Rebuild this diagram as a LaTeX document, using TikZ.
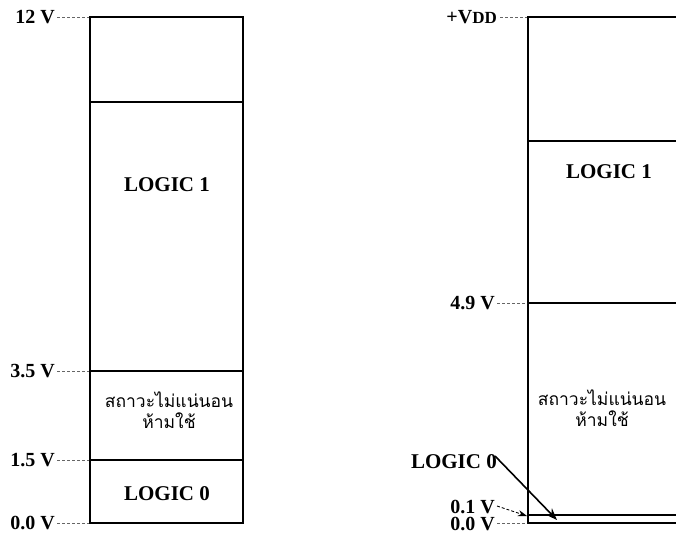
\documentclass[tikz,border=0pt]{standalone}
\usepackage{fontspec}
\setmainfont{Liberation Serif}
\newfontfamily\thaifont[Script=Thai]{Loma}
\usetikzlibrary{arrows.meta}
\begin{document}
\begin{tikzpicture}[x=1pt,y=1pt,
  region/.style={draw=black,line width=1.3pt},
  vlabel/.style={anchor=east,inner sep=0pt,font=\fontsize{20}{20}\selectfont\bfseries},
  logic/.style={inner sep=0pt,font=\fontsize{21}{21}\selectfont\bfseries},
  thai/.style={inner sep=0pt,align=center,font=\fontsize{17.5}{21}\selectfont\thaifont},
  tick/.style={draw=black!60,dashed,dash pattern=on 3pt off 2pt,line width=0.6pt},
  pointer/.style={draw=black,line width=1.6pt,-{Stealth[length=12pt,width=9pt]}},
  dpointer/.style={draw=black,dash pattern=on 3pt off 2pt,line width=0.8pt,-{Stealth[length=9pt,width=6pt]}}]
\useasboundingbox (0,0) rectangle (676,536);
\clip (0,0) rectangle (676,536);
% left box
\draw[region] (90,13) rectangle (243,519);
\draw[region] (90,434) -- (243,434);
\draw[region] (90,165) -- (243,165);
\draw[region] (90,76) -- (243,76);
\node[logic] (l1) at (167,351) {LOGIC 1};
\node[thai] (lund) at (169,126) {สถาวะไม่แน่นอน\\ห้ามใช้};
\node[logic] (l0) at (167,42) {LOGIC 0};
% left labels
\node[vlabel] (a12) at (55,519) {12 V};
\node[vlabel] (a35) at (55,165) {3.5 V};
\node[vlabel] (a15) at (55,76) {1.5 V};
\node[vlabel] (a00) at (55,13) {0.0 V};
\coordinate (ta12) at (89,519);
\coordinate (ta35) at (89,165);
\coordinate (ta15) at (89,76);
\coordinate (ta00) at (89,13);
\draw[tick] (a12.east) ++(2,0) -- (ta12);
\draw[tick] (a35.east) ++(2,0) -- (ta35);
\draw[tick] (a15.east) ++(2,0) -- (ta15);
\draw[tick] (a00.east) ++(2,0) -- (ta00);
% right box
\draw[region] (690,519) -- (528,519) -- (528,13) -- (690,13);
\draw[region] (528,395) -- (690,395);
\draw[region] (528,233) -- (690,233);
\draw[region] (528,21) -- (690,21);
\node[logic] (r1) at (609,364) {LOGIC 1};
\node[thai] (rund) at (602,128) {สถาวะไม่แน่นอน\\ห้ามใช้};
% right labels
\node[vlabel] (bvdd) at (497,519) {+V{\fontsize{17}{17}\selectfont DD}};
\node[vlabel] (b49) at (495,233) {4.9 V};
\node[vlabel,anchor=north east,align=right,font=\fontsize{20}{17}\selectfont\bfseries] (b0x) at (495,36) {0.1 V\\0.0 V};
\node[logic,anchor=east] (r0) at (497,74) {LOGIC 0};
\coordinate (sb01) at (497,30);
\coordinate (sb00) at (497,13);
\coordinate (tbvdd) at (527,519);
\coordinate (tb49) at (527,233);
\coordinate (tb00) at (527,13);
\coordinate (tb01) at (527,20);
\coordinate (tr0) at (557,16);
\draw[tick] (bvdd.east) ++(3,0) -- (tbvdd);
\draw[tick] (b49.east) ++(2,0) -- (tb49);
\draw[tick] (sb00) -- (tb00);
\draw[dpointer] (sb01) -- (tb01);
\draw[pointer] (r0.east) ++(-2,6) -- (tr0);
\end{tikzpicture}
\end{document}
